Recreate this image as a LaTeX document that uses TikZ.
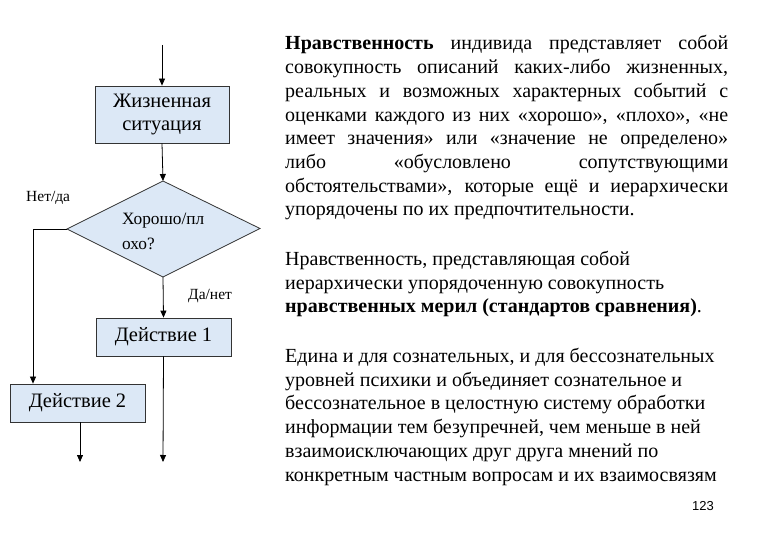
\documentclass[tikz,border=0pt]{standalone}
\usepackage{fontspec}
\setmainfont{Liberation Serif}
\newfontfamily\serifru{Liberation Serif}
\newfontfamily\numfont{Liberation Sans}
\usetikzlibrary{arrows.meta}
\definecolor{boxfill}{HTML}{DCE8F6}
\definecolor{boxline}{HTML}{333333}
\tikzset{
  flowbox/.style={draw=boxline, line width=0.8pt, fill=boxfill, inner sep=0pt, align=center},
  conn/.style={draw=black, line width=0.8pt, -{Triangle[length=7pt,width=6pt]}},
  txt/.style={anchor=base west, inner sep=0pt, font=\serifru\fontsize{20}{24}\selectfont},
  lbl/.style={inner sep=0pt, font=\serifru\fontsize{15.5}{17}\selectfont}
}
\newcommand{\jline}[1]{\makebox[443pt][s]{#1}}
\begin{document}
\begin{tikzpicture}[x=1pt,y=-1pt]
\useasboundingbox (0,0) rectangle (780,540);
\fill[white] (0,0) rectangle (780,540);
% flowchart
\coordinate (start) at (162,45);
\node[flowbox, minimum width=134pt, minimum height=57pt, font=\serifru\fontsize{20.5}{23}\selectfont] (life) at (162,114.5) {Жизненная\\ситуация};
\path[flowbox] (163,181) -- (260,228.5) -- (163,277) -- (67,229) -- cycle;
\coordinate (dtop) at (163,181);
\coordinate (dleft) at (67,229);
\coordinate (dbot) at (163,277);
\node[anchor=base west, inner sep=0pt, font=\serifru\fontsize{17.3}{24}\selectfont] (q) at (122,225) {Хорошо/пл};
\node[anchor=base west, inner sep=0pt, font=\serifru\fontsize{17.3}{24}\selectfont] (q2) at (122,250) {охо?};
\node[flowbox, minimum width=135pt, minimum height=38pt, font=\serifru\fontsize{20.5}{24}\selectfont] (act1) at (163.5,337) {Действие 1};
\node[flowbox, minimum width=135pt, minimum height=38pt, font=\serifru\fontsize{20.5}{24}\selectfont] (act2) at (77.5,403) {Действие 2};
\coordinate (corner) at (33,229);
\coordinate (end1) at (163,462);
\coordinate (end2) at (80,462);
\draw[conn] (start) -- (life.north);
\draw[conn] (life.south) -- (dtop);
\draw[conn] (dbot) -- (act1.north);
\draw[conn] (dleft) -- (corner) -- (corner |- act2.north);
\draw[conn] (act1.south) -- (end1);
\draw[conn] (act2.south -| end2) -- (end2);
\node[lbl, anchor=base west] (nd) at (26,202) {Нет/да};
\node[lbl, anchor=base west] (dn) at (188,300) {Да/нет};
% right text
\node[txt] (p1) at (285,50) {\jline{\textbf{Нравственность} индивида представляет собой}};
\node[txt] (p2) at (285,73.7) {\jline{совокупность описаний каких-либо жизненных,}};
\node[txt] (p3) at (285,97.4) {\jline{реальных и возможных характерных событий с}};
\node[txt] (p4) at (285,121.1) {\jline{оценками каждого из них «хорошо», «плохо», «не}};
\node[txt] (p5) at (285,144.8) {\jline{имеет значения» или «значение не определено»}};
\node[txt] (p6) at (285,168.5) {\jline{либо «обусловлено сопутствующими}};
\node[txt] (p7) at (285,192.2) {\jline{обстоятельствами», которые ещё и иерархически}};
\node[txt] (p8) at (285,215.9) {упорядочены по их предпочтительности.};
\node[txt] (q1) at (285,265.5) {Нравственность, представляющая собой};
\node[txt] (q2l) at (285,289.2) {иерархически упорядоченную совокупность};
\node[txt] (q3) at (285,312.9) {\textbf{нравственных мерил (стандартов сравнения)}.};
\node[txt] (r1) at (285,362.5) {Едина и для сознательных, и для бессознательных};
\node[txt] (r2) at (285,386.2) {уровней психики и объединяет сознательное и};
\node[txt] (r3) at (285,409.9) {бессознательное в целостную систему обработки};
\node[txt] (r4) at (285,433.6) {информации тем безупречней, чем меньше в ней};
\node[txt] (r5) at (285,457.3) {взаимоисключающих друг друга мнений по};
\node[txt] (r6) at (285,481) {конкретным частным вопросам и их взаимосвязям};
\node[anchor=base west, inner sep=0pt, font=\numfont\fontsize{13}{15}\selectfont] (pg) at (692,510) {123};
\end{tikzpicture}
\end{document}
